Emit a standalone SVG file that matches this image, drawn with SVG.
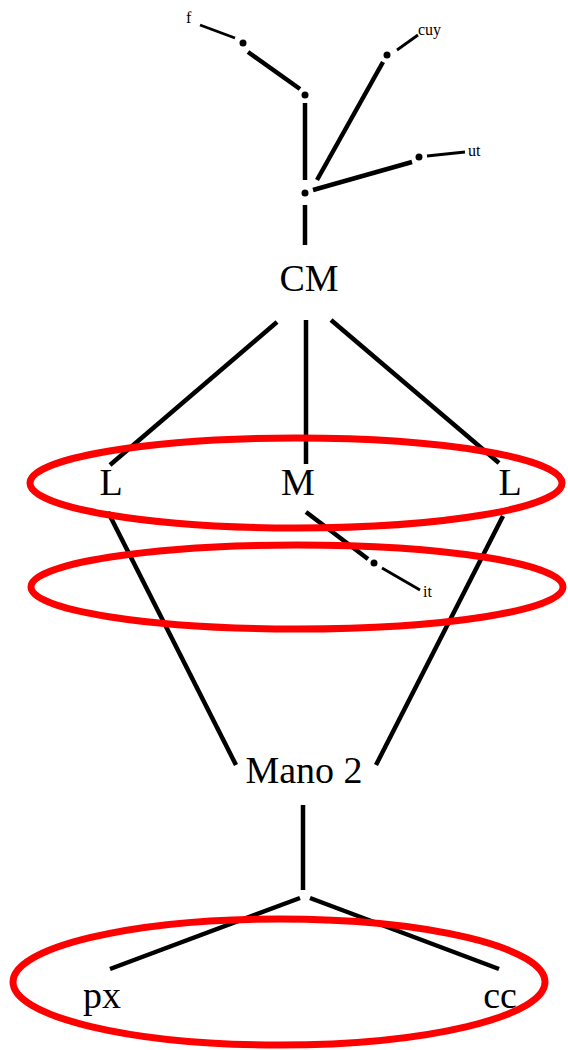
<svg xmlns="http://www.w3.org/2000/svg" width="568" height="1050" viewBox="0 0 568 1050">
<style>
.e{stroke:#000;stroke-width:4.5;fill:none;stroke-linecap:butt}
.t{stroke:#000;stroke-width:2.8;fill:none}
.d{fill:#000}
.lb{font-family:"Liberation Serif",serif;font-size:38px;fill:#000;text-anchor:middle}
.sm{font-family:"Liberation Serif",serif;font-size:16px;fill:#000}
.ring{fill:none;stroke:#ff0000;stroke-width:7}
</style>
<rect width="568" height="1050" fill="#fff"/>
<g id="connectors">
<line class="t" x1="200" y1="25" x2="235" y2="38"/>
<line class="e" x1="248" y1="52" x2="300" y2="89"/>
<line class="e" x1="305" y1="103" x2="305" y2="180"/>
<line class="e" x1="317" y1="180" x2="383" y2="62"/>
<line class="t" x1="397" y1="50" x2="418" y2="35"/>
<line class="e" x1="313" y1="190" x2="412" y2="162"/>
<line class="t" x1="427" y1="156" x2="465" y2="152"/>
<line class="e" x1="305" y1="205" x2="305" y2="245"/>
<line class="e" x1="277" y1="322" x2="110" y2="465"/>
<line class="e" x1="306" y1="320" x2="306" y2="464"/>
<line class="e" x1="331" y1="320" x2="499" y2="463"/>
<line class="e" x1="306" y1="512" x2="368" y2="559"/>
<line class="t" x1="382" y1="568" x2="420" y2="590"/>
<line class="e" x1="108" y1="512" x2="236" y2="765"/>
<line class="e" x1="503" y1="516" x2="376" y2="765"/>
<line class="e" x1="303" y1="805" x2="303" y2="890"/>
<line class="e" x1="300" y1="898" x2="110" y2="969"/>
<line class="e" x1="310" y1="898" x2="499" y2="969"/>
</g>
<g id="dots">
<circle class="d" cx="243" cy="43" r="3.5"/>
<circle class="d" cx="305" cy="95" r="3.5"/>
<circle class="d" cx="305" cy="193" r="3.5"/>
<circle class="d" cx="387" cy="55" r="3.5"/>
<circle class="d" cx="419" cy="157" r="3.5"/>
<circle class="d" cx="374" cy="563" r="3.5"/>
</g>
<g id="n-f"><text class="sm" x="186" y="23">f</text></g>
<g id="n-cuy"><text class="sm" x="418" y="35">cuy</text></g>
<g id="n-ut"><text class="sm" x="468" y="156">ut</text></g>
<g id="n-it"><text class="sm" x="423" y="597">it</text></g>
<g id="n-CM"><text class="lb" x="309" y="291">CM</text></g>
<g id="n-L1"><text class="lb" x="111" y="495">L</text></g>
<g id="n-M"><text class="lb" x="298" y="495">M</text></g>
<g id="n-L2"><text class="lb" x="510" y="495">L</text></g>
<g id="n-Mano2"><text class="lb" x="304" y="783">Mano 2</text></g>
<g id="n-px"><text class="lb" x="102" y="1008">px</text></g>
<g id="n-cc"><text class="lb" x="500" y="1008">cc</text></g>
<g id="rings">
<ellipse class="ring" cx="296" cy="483" rx="266" ry="45"/>
<ellipse class="ring" cx="297" cy="587" rx="266" ry="42"/>
<ellipse class="ring" cx="279" cy="982" rx="266" ry="63"/>
</g>
</svg>
